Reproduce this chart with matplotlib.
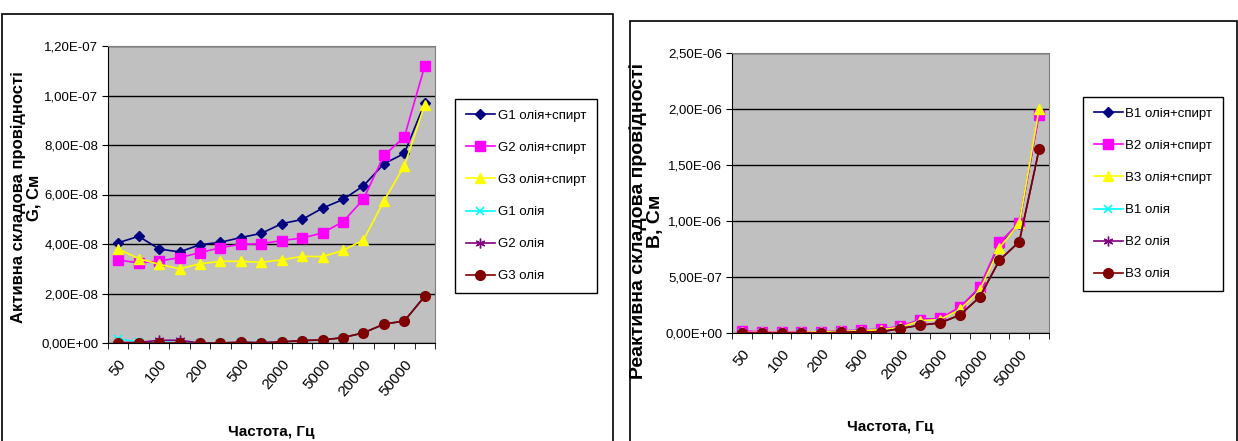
import numpy as np
import matplotlib.pyplot as plt
from matplotlib.patches import Rectangle
from matplotlib.ticker import FuncFormatter

# Частоти (підписується кожна друга)
freq = ['50', '70', '100', '150', '200', '300', '500', '1000',
        '2000', '3000', '5000', '10000', '20000', '30000', '50000', '100000']

# Активна складова G, См (x1e-8)
G1_os = [4.05, 4.31, 3.80, 3.68, 3.97, 4.07, 4.26, 4.43, 4.82, 4.99, 5.45, 5.80, 6.35, 7.24, 7.66, 9.70]
G2_os = [3.35, 3.24, 3.31, 3.45, 3.65, 3.85, 3.99, 4.01, 4.14, 4.24, 4.45, 4.90, 5.81, 7.58, 8.32, 11.2]
G3_os = [3.80, 3.41, 3.18, 3.00, 3.20, 3.30, 3.30, 3.26, 3.36, 3.50, 3.49, 3.74, 4.16, 5.74, 7.16, 9.62]
G1_oil = [0.17, 0.04, 0.03, 0.02, 0.00, 0.00, 0.03, 0.02, 0.05, 0.10, 0.12, 0.22, 0.41, 0.76, 0.89, 1.89]
G2_oil = [0.02, 0.02, 0.11, 0.11, 0.00, 0.00, 0.03, 0.02, 0.05, 0.10, 0.12, 0.22, 0.41, 0.76, 0.89, 1.89]
G3_oil = [0.00, 0.00, 0.00, 0.00, -0.02, 0.00, 0.03, 0.00, 0.04, 0.10, 0.12, 0.22, 0.41, 0.76, 0.89, 1.89]

# Реактивна складова B, См (x1e-6)
B1_os = [0.01, 0.005, 0.005, 0.005, 0.01, 0.015, 0.02, 0.03, 0.05, 0.12, 0.13, 0.21, 0.40, 0.78, 0.975, 1.97]
B2_os = [0.02, 0.01, 0.01, 0.01, 0.01, 0.02, 0.025, 0.035, 0.06, 0.12, 0.13, 0.23, 0.41, 0.81, 0.985, 1.95]
B3_os = [0.005, 0.005, 0.005, 0.005, 0.01, 0.015, 0.02, 0.03, 0.05, 0.11, 0.12, 0.21, 0.38, 0.76, 0.98, 2.00]
B1_oil = [0.0, 0.0, 0.0, 0.0, 0.0, 0.005, 0.01, 0.01, 0.04, 0.07, 0.09, 0.16, 0.32, 0.65, 0.815, 1.64]
B2_oil = [0.0, 0.0, 0.0, 0.0, 0.0, 0.005, 0.01, 0.01, 0.04, 0.07, 0.09, 0.16, 0.32, 0.65, 0.815, 1.64]
B3_oil = [0.0, 0.0, 0.0, 0.0, 0.0, 0.005, 0.01, 0.01, 0.04, 0.07, 0.09, 0.16, 0.32, 0.65, 0.815, 1.64]

styles = [
    dict(color='#000080', marker='D', ms=5),
    dict(color='#FF00FF', marker='s', ms=7),
    dict(color='#FFFF00', marker='^', ms=7),
    dict(color='#00FFFF', marker='x', ms=6, mew=1.2),
    dict(color='#800080', marker=(6, 2, 0), ms=7, mew=1.0),
    dict(color='#800000', marker='o', ms=7),
]

plt.rcParams['font.family'] = ['Liberation Sans', 'DejaVu Sans']

fig = plt.figure(figsize=(12.38, 4.41), dpi=100)

# рамки діаграм
fig.patches.append(Rectangle((2 / 1238, -0.1), 611 / 1238, 1.1 - 14 / 441, transform=fig.transFigure,
                             fill=False, edgecolor='black', lw=1.2))
fig.patches.append(Rectangle((630 / 1238, -0.1), 607 / 1238, 1.1 - 21 / 441, transform=fig.transFigure,
                             fill=False, edgecolor='black', lw=1.2))


def fmt(v, pos):
    return f'{v:.2E}'.replace('.', ',')


def draw(ax, series, labels, scale, ymax, ystep, ylabel, ylab_size, ylab_xy, xlab_pad, leg_box):
    x = np.arange(len(freq))
    for s, lab, st in zip(series, labels, styles):
        ax.plot(x, np.array(s) * scale, lw=1.2, label=lab, **st)
    ax.set_facecolor('#C0C0C0')
    ax.set_xlim(-0.5, len(freq) - 0.5)
    ax.set_ylim(0, ymax)
    ax.set_yticks(np.arange(0, ymax + ystep / 2, ystep))
    ax.yaxis.set_major_formatter(FuncFormatter(fmt))
    ax.grid(axis='y', color='black', lw=1)
    ax.set_axisbelow(True)
    for sp in ['top', 'right']:
        ax.spines[sp].set_color('#808080')
    ax.set_xticks(x[::2])
    ax.set_xticklabels(freq[::2], rotation=50, ha='right', rotation_mode='anchor', fontsize=11)
    ax.tick_params(axis='x', length=0, pad=10)
    ax.set_xticks(np.arange(-0.5, len(freq), 1), minor=True)
    ax.tick_params(axis='x', which='minor', length=4, direction='out')
    ax.tick_params(axis='y', length=4, labelsize=9.5, pad=3)
    ax.set_xlabel('Частота, Гц', fontweight='bold', fontsize=11, labelpad=xlab_pad)
    ax.set_ylabel(ylabel, fontweight='bold', fontsize=ylab_size, linespacing=1.0)
    ax.yaxis.set_label_coords(*ylab_xy)
    fig.legend(*ax.get_legend_handles_labels(), loc='center', bbox_to_anchor=leg_box,
               bbox_transform=fig.transFigure, fancybox=False, edgecolor='black',
               framealpha=1, prop={'size': 9.5}, labelspacing=1.5,
               handlelength=2.2, handletextpad=0.2, borderpad=0.8)


ax1 = fig.add_axes([108 / 1238, 98 / 441, 327 / 1238, 297 / 441])
draw(ax1, [G1_os, G2_os, G3_os, G1_oil, G2_oil, G3_oil],
     ['G1 олія+спирт', 'G2 олія+спирт', 'G3 олія+спирт', 'G1 олія', 'G2 олія', 'G3 олія'],
     1e-8, 1.2e-7, 2e-8, 'Активна складова провідності\nG, См', 12, (-67 / 327, 0.49), 19,
     (526 / 1238, (441 - 196) / 441))

ax2 = fig.add_axes([732 / 1238, 108 / 441, 317 / 1238, 280 / 441])
draw(ax2, [B1_os, B2_os, B3_os, B1_oil, B2_oil, B3_oil],
     ['B1 олія+спирт', 'B2 олія+спирт', 'B3 олія+спирт', 'B1 олія', 'B2 олія', 'B3 олія'],
     1e-6, 2.5e-6, 5e-7, 'Реактивна складова провідності\nВ, См', 14, (-68 / 317, 0.4), 23,
     (1153 / 1238, (441 - 194) / 441))

fig.savefig('out.png', dpi=100)
